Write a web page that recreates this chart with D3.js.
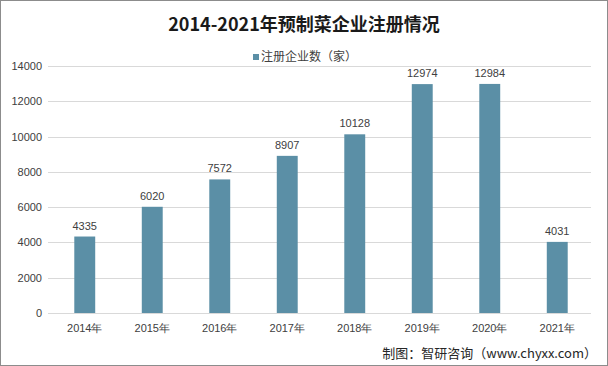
<!DOCTYPE html>
<html><head><meta charset="utf-8">
<script src="https://cdn.jsdelivr.net/npm/d3@7"></script>
<style>body{margin:0;background:#fff}svg{display:block;font-family:"Microsoft YaHei","Noto Sans CJK SC",sans-serif}</style>
</head><body>
<script>
const categories = ["2014年","2015年","2016年","2017年","2018年","2019年","2020年","2021年"];
const values = [4335,6020,7572,8907,10128,12974,12984,4031];
const yTicks = [0,2000,4000,6000,8000,10000,12000,14000];
const title = "2014-2021年预制菜企业注册情况";
const legendLabel = "注册企业数（家）";
const source = "制图：智研咨询（www.chyxx.com）";

const W=608,H=366;
const svg=d3.select("body").append("svg").attr("width",W).attr("height",H);
svg.append("rect").attr("x",0.5).attr("y",0.5).attr("width",W-1).attr("height",H-1).attr("fill","#fff").attr("stroke","#8c8c8c");

const x=d3.scaleBand().domain(categories).range([51,591]).paddingInner(0.69).paddingOuter(0.345);
const y=d3.scaleLinear().domain([0,14000]).range([313,66]);

const grid=svg.append("g");
grid.selectAll("line").data(yTicks).join("line")
 .attr("x1",48).attr("x2",591).attr("y1",d=>Math.round(y(d))+0.5).attr("y2",d=>Math.round(y(d))+0.5)
 .attr("stroke","#d9d9d9");

const yAxis=svg.append("g").attr("transform","translate(48,0)")
 .call(d3.axisLeft(y).tickValues(yTicks).tickSize(0).tickPadding(6).tickFormat(d3.format("d")));
yAxis.select(".domain").remove();
yAxis.selectAll("text").attr("font-size",11).attr("fill","#404040").attr("font-family","Liberation Sans, Arial, sans-serif");

const xAxis=svg.append("g").attr("transform","translate(0,313)")
 .call(d3.axisBottom(x).tickSize(0).tickPadding(11));
xAxis.select(".domain").remove();
xAxis.selectAll("text").attr("font-size",11).attr("fill","#404040");

svg.append("g").selectAll("rect").data(values).join("rect")
 .attr("x",(d,i)=>x(categories[i])).attr("width",x.bandwidth())
 .attr("y",d=>y(d)).attr("height",d=>y(0)-y(d)).attr("fill","#5b8fa6");

svg.append("g").selectAll("text").data(values).join("text")
 .attr("x",(d,i)=>x(categories[i])+x.bandwidth()/2).attr("y",d=>y(d)-7)
 .attr("text-anchor","middle").attr("font-size",11).attr("fill","#404040")
 .attr("font-family","Liberation Sans, Arial, sans-serif").text(d=>d);

svg.append("text").attr("x",304).attr("y",31).attr("text-anchor","middle")
 .attr("font-size",18).attr("font-weight","bold").attr("fill","#1a1a1a").text(title);

svg.append("rect").attr("x",253).attr("y",54).attr("width",6).attr("height",6).attr("fill","#5b8fa6");
svg.append("text").attr("x",261).attr("y",61).attr("font-size",12).attr("fill","#404040").text(legendLabel);

svg.append("text").attr("x",597).attr("y",358).attr("text-anchor","end")
 .attr("font-size",13).attr("fill","#262626").text(source);
</script>
</body></html>
